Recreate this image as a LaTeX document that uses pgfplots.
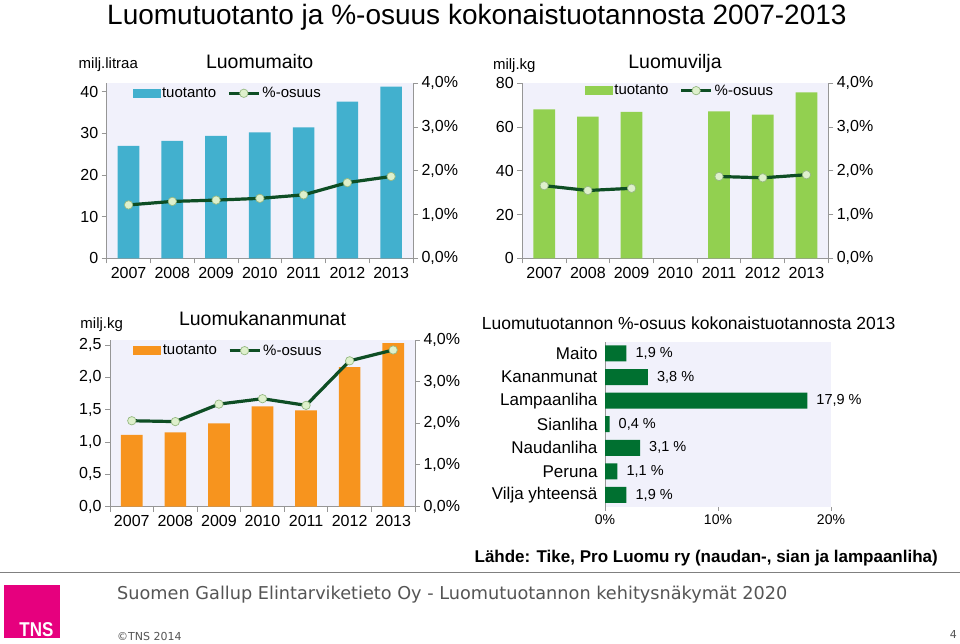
\documentclass[border=0pt]{standalone}
\usepackage{pgfplots}
\pgfplotsset{compat=1.18}
\usepackage{fontspec}
\setmainfont{Liberation Sans}
\newfontfamily\footfont{DejaVu Sans}
\definecolor{milk}{RGB}{66,176,206}
\definecolor{grain}{RGB}{146,208,80}
\definecolor{egg}{RGB}{247,148,30}
\definecolor{linegreen}{RGB}{14,78,36}
\definecolor{mkfill}{RGB}{222,240,204}
\definecolor{mkdraw}{RGB}{150,185,130}
\definecolor{hgreen}{RGB}{0,112,48}
\definecolor{plotbg}{RGB}{241,241,251}
\definecolor{axgray}{RGB}{150,150,150}
\definecolor{tnsmag}{RGB}{230,0,126}
\definecolor{foot}{RGB}{85,85,85}
\newcommand{\fs}[1]{\fontsize{#1}{#1}\selectfont}

\pgfplotsset{
  common/.style={
    scale only axis, anchor=south west,
    xmin=-0.5, xmax=6.5, ymin=0,
    axis line style={draw=axgray, line width=0.8pt, -},
    tick align=outside,
    tick style={draw=axgray, line width=0.8pt},
    major tick length=5pt, minor tick length=5pt,
    tick label style={font=\fs{16}},
  },
  leftax/.style={
    common,
    axis background/.style={fill=plotbg},
    axis x line*=bottom, axis y line*=left,
    xtick={0,...,6},
    xticklabels={2007,2008,2009,2010,2011,2012,2013},
    minor xtick={-0.5,0.5,...,6.5},
    major x tick style={draw=none},
  },
  rightax/.style={
    common,
    axis y line*=right, axis x line=none,
    ymax=4, ytick={0,1,2,3,4},
    yticklabels={{0,0\%},{1,0\%},{2,0\%},{3,0\%},{4,0\%}},
    legend columns=2,
    legend style={draw=none, fill=none, inner sep=0pt, font=\fs{15},
      /tikz/every even column/.append style={column sep=9pt}, anchor=west},
  },
  pline/.style={linegreen, line width=3.2pt, mark=*, mark size=4.2pt,
    mark options={solid, fill=mkfill, draw=mkdraw, line width=0.7pt},
    legend image code/.code={\draw[mark repeat=2,mark phase=2,##1] plot coordinates {(0pt,0pt) (15pt,0pt) (30pt,0pt)};}},
  barleg/.style={legend image code/.code={\fill[#1] (-3pt,-4pt) rectangle (24pt,4pt);}},
}

\begin{document}
\begin{tikzpicture}[x=1pt,y=1pt]
\useasboundingbox (0,0) rectangle (960,643);
\fill[white] (0,0) rectangle (960,643);

% main title
\node[anchor=base west, inner sep=0pt, font=\fs{28}] at (107,618.5) {Luomutuotanto ja \%-osuus kokonaistuotannosta 2007-2013};

% ---------- Panel 1: Luomumaito ----------
\begin{axis}[leftax, at={(106.7pt,384.7pt)}, width=306.3pt, height=175pt,
  ymax=42, ytick={0,10,20,30,40}, yticklabels={0,10,20,30,40}]
\addplot[ybar, bar width=21.7pt, fill=milk, draw=none] coordinates
  {(0,27.0) (1,28.2) (2,29.4) (3,30.2) (4,31.4) (5,37.6) (6,41.2)};
\end{axis}
\begin{axis}[rightax, at={(106.7pt,384.7pt)}, width=306.3pt, height=175pt,
  legend style={at={(axis description cs:0.084,0.943)}}]
\addlegendimage{barleg=milk}
\addlegendentry{tuotanto}
\addplot[pline] coordinates
  {(0,1.22) (1,1.30) (2,1.33) (3,1.37) (4,1.45) (5,1.73) (6,1.87)};
\addlegendentry{\%-osuus}
\end{axis}
\node[anchor=base, inner sep=0pt, font=\fs{19.5}] at (259.7,574.7) {Luomumaito};
\node[anchor=base, inner sep=0pt, font=\fs{15}] at (108.3,574.7) {milj.litraa};

% ---------- Panel 2: Luomuvilja ----------
\begin{axis}[leftax, at={(522.3pt,384.7pt)}, width=306pt, height=175pt,
  ymax=80, ytick={0,20,40,60,80}, yticklabels={0,20,40,60,80}]
\addplot[ybar, bar width=21.7pt, fill=grain, draw=none] coordinates
  {(0,68.1) (1,64.8) (2,66.9) (4,67.2) (5,65.7) (6,75.9)};
\end{axis}
\begin{axis}[rightax, at={(522.3pt,384.7pt)}, width=306pt, height=175pt,
  unbounded coords=jump,
  legend style={at={(axis description cs:0.204,0.958)}}]
\addlegendimage{barleg=grain}
\addlegendentry{tuotanto}
\addplot[pline] coordinates
  {(0,1.66) (1,1.55) (2,1.60) (3,nan) (4,1.87) (5,1.84) (6,1.91)};
\addlegendentry{\%-osuus}
\end{axis}
\node[anchor=base, inner sep=0pt, font=\fs{19.5}] at (675,574.7) {Luomuvilja};
\node[anchor=base, inner sep=0pt, font=\fs{15}] at (514.3,573.7) {milj.kg};

% ---------- Panel 3: Luomukananmunat ----------
\begin{axis}[leftax, at={(110pt,136.5pt)}, width=305pt, height=166.5pt,
  ymax=2.58, ytick={0,0.5,1,1.5,2,2.5}, yticklabels={{0,0},{0,5},{1,0},{1,5},{2,0},{2,5}}]
\addplot[ybar, bar width=21.7pt, fill=egg, draw=none] coordinates
  {(0,1.11) (1,1.15) (2,1.29) (3,1.55) (4,1.49) (5,2.16) (6,2.53)};
\end{axis}
\begin{axis}[rightax, at={(110pt,136.5pt)}, width=305pt, height=166.5pt,
  legend style={at={(axis description cs:0.076,0.936)}}]
\addlegendimage{barleg=egg}
\addlegendentry{tuotanto}
\addplot[pline] coordinates
  {(0,2.06) (1,2.04) (2,2.46) (3,2.59) (4,2.43) (5,3.50) (6,3.76)};
\addlegendentry{\%-osuus}
\end{axis}
\node[anchor=base, inner sep=0pt, font=\fs{19.5}] at (262.5,317) {Luomukananmunat};
\node[anchor=base, inner sep=0pt, font=\fs{15}] at (101.7,314.7) {milj.kg};

% ---------- Panel 4: horizontal bars ----------
\begin{axis}[scale only axis, anchor=south west, at={(605pt,136.3pt)}, width=226pt, height=165pt,
  xmin=0, xmax=20, ymin=-0.5, ymax=6.5,
  axis background/.style={fill=plotbg},
  axis x line*=bottom, axis y line*=left,
  x axis line style={draw=none},
  y axis line style={draw=axgray, line width=0.8pt, -},
  tick align=outside, major tick length=4pt,
  tick style={draw=axgray, line width=0.8pt},
  major y tick style={draw=none},
  xtick={0,10,20}, xticklabels={0\%,10\%,20\%},
  ytick={0,...,6},
  yticklabels={Vilja yhteensä,Peruna,Naudanliha,Sianliha,Lampaanliha,Kananmunat,Maito},
  xticklabel style={font=\fs{14}}, yticklabel style={font=\fs{17}},
  clip=false]
\addplot[xbar, bar width=16pt, fill=hgreen, draw=none, point meta=x,
  nodes near coords={\pgfmathprintnumber[assume math mode=true,fixed,fixed zerofill,precision=1,use comma]{\pgfplotspointmeta}~\%},
  nodes near coords style={anchor=west, inner sep=0pt, xshift=9pt, font=\fs{14.5}}]
  coordinates {(1.9,6) (3.8,5) (17.9,4) (0.4,3) (3.1,2) (1.1,1) (1.9,0)};
\end{axis}
\node[anchor=base west, inner sep=0pt, font=\fs{17.5}] at (481.7,313.7) {Luomutuotannon \%-osuus kokonaistuotannosta 2013};

% ---------- footer ----------
\node[anchor=base east, inner sep=0pt] at (938,81) {\fs{17}\bfseries Lähde: Tike, Pro Luomu ry (naudan-, sian ja lampaanliha)};
\draw[gray, line width=1.5pt] (0,70.5) -- (960,70.5);
\fill[tnsmag] (4,4.7) rectangle (60,58);
\node[anchor=base, inner sep=0pt, text=white] at (36.5,7) {\scalebox{0.85}[1]{\fs{20}\bfseries TNS}};
\node[anchor=base west, inner sep=0pt, text=foot] at (117,44) {\footfont\fs{17.7}Suomen Gallup Elintarviketieto Oy - Luomutuotannon kehitysnäkymät 2020};
\node[anchor=base west, inner sep=0pt, text=foot] at (117,3) {\footfont\fs{11}©TNS 2014};
\node[anchor=base east, inner sep=0pt, text=foot] at (957,4.7) {\footfont\fs{11}4};
\end{tikzpicture}
\end{document}
